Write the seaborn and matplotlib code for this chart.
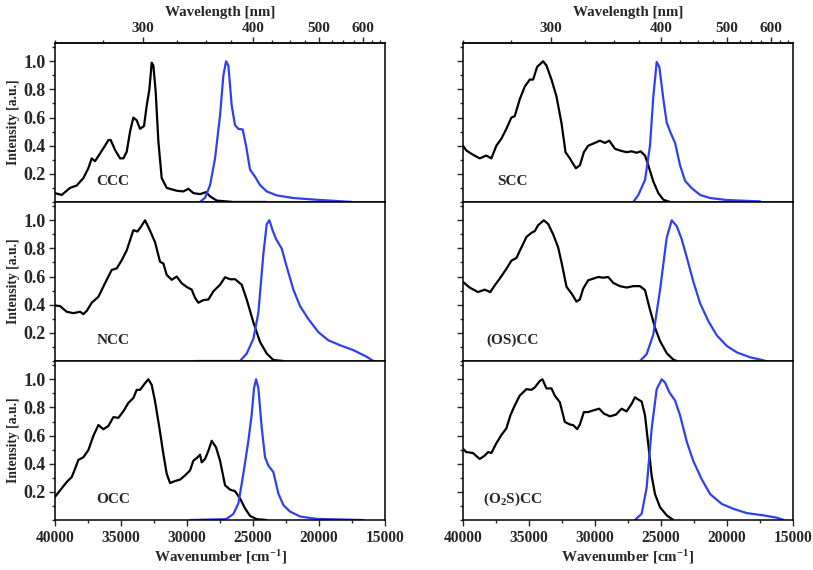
import numpy as np
import pandas as pd
import seaborn as sns
import matplotlib
matplotlib.use("Agg")
import matplotlib.pyplot as plt
from matplotlib.ticker import MultipleLocator, FixedLocator, NullFormatter

ccc_abs_wn = [40000, 39495, 38864, 38359, 37854, 37475, 37222, 36970, 36591, 36212, 35960, 35783,
              35455, 35076, 34823, 34571, 34318, 34066, 33813, 33561, 33258, 33056, 32854, 32677,
              32551, 32374, 32172, 31920, 31541, 30784, 30279, 29900, 29521, 29016, 28561, 28258,
              27753, 26491, 24000]
ccc_abs_int = [0.063, 0.05, 0.10, 0.117, 0.17, 0.24, 0.31, 0.29, 0.345, 0.40, 0.44, 0.44,
               0.37, 0.31, 0.31, 0.357, 0.50, 0.60, 0.58, 0.52, 0.54, 0.685, 0.80, 0.99,
               0.97, 0.78, 0.43, 0.17, 0.10, 0.08, 0.075, 0.094, 0.063, 0.056, 0.07, 0.04,
               0.01, 0.0, 0.0]
ccc_em_wn = [29016, 28638, 28258, 27879, 27501, 27248, 27046, 26870, 26617, 26365, 26112, 25784,
             25532, 25229, 24850, 24471, 23966, 23209, 21946, 20179, 18500, 17500]
ccc_em_int = [0.0, 0.03, 0.12, 0.31, 0.615, 0.90, 1.0, 0.97, 0.685, 0.545, 0.52, 0.515,
              0.40, 0.23, 0.18, 0.12, 0.075, 0.047, 0.028, 0.016, 0.006, 0.0]

ncc_abs_wn = [40000, 39621, 39116, 38611, 38106, 37854, 37601, 37222, 36717, 36212, 35708, 35329,
              34950, 34571, 34066, 33763, 33561, 33182, 32803, 32425, 32046, 31794, 31541, 31163,
              30784, 30405, 30026, 29647, 29395, 29142, 28763, 28384, 28006, 27501, 27122, 26743,
              26365, 25860, 25481, 24976, 24471, 23966, 23461, 22704]
ncc_abs_int = [0.395, 0.39, 0.35, 0.34, 0.35, 0.333, 0.356, 0.414, 0.456, 0.553, 0.647, 0.658,
               0.716, 0.786, 0.93, 0.92, 0.944, 1.0, 0.926, 0.844, 0.705, 0.693, 0.612, 0.577,
               0.60, 0.553, 0.526, 0.507, 0.449, 0.414, 0.433, 0.437, 0.495, 0.542, 0.595, 0.581,
               0.581, 0.542, 0.437, 0.274, 0.135, 0.053, 0.007, 0.0]
ncc_em_wn = [29395, 25986, 25481, 24976, 24597, 24218, 23966, 23764, 23511, 23259, 22829, 22451,
             21946, 21441, 20810, 20052, 19295, 18411, 17401, 16391, 15886]
ncc_em_int = [0.0, 0.0, 0.053, 0.158, 0.344, 0.763, 0.972, 1.0, 0.926, 0.867, 0.798, 0.67,
              0.507, 0.39, 0.298, 0.205, 0.147, 0.112, 0.077, 0.03, 0.0]

occ_abs_wn = [40000, 39621, 39116, 38737, 38485, 38232, 37854, 37475, 37096, 36717, 36339, 35960,
              35581, 35202, 34823, 34445, 34066, 33813, 33561, 33182, 32929, 32677, 32425, 32096,
              31794, 31541, 31289, 30910, 30531, 30153, 29774, 29521, 29268, 29016, 28890, 28638,
              28384, 28132, 27804, 27501, 27122, 26743, 26365, 25986, 25608, 25229, 24724, 23966]
occ_abs_int = [0.165, 0.21, 0.27, 0.305, 0.364, 0.427, 0.446, 0.497, 0.598, 0.675, 0.645, 0.668,
               0.731, 0.726, 0.773, 0.832, 0.867, 0.925, 0.925, 0.972, 1.0, 0.96, 0.843, 0.656,
               0.469, 0.329, 0.263, 0.277, 0.287, 0.317, 0.352, 0.422, 0.44, 0.464, 0.41, 0.434,
               0.492, 0.563, 0.516, 0.422, 0.247, 0.216, 0.205, 0.153, 0.083, 0.029, 0.006, 0.0]
occ_em_wn = [29774, 27046, 26491, 26112, 25734, 25355, 25103, 24926, 24774, 24598, 24345, 24093,
             23840, 23461, 23082, 22704, 22199, 21441, 20179, 16644]
occ_em_int = [0.0, 0.006, 0.043, 0.118, 0.329, 0.563, 0.75, 0.937, 1.0, 0.937, 0.656, 0.446,
              0.387, 0.34, 0.188, 0.106, 0.06, 0.025, 0.008, 0.0]

scc_abs_wn = [40000, 39747, 39241, 38735, 38229, 37849, 37470, 37090, 36711, 36331, 36078, 35699,
              35319, 34940, 34687, 34383, 33928, 33675, 33295, 32916, 32536, 32232, 31903, 31650,
              31448, 31145, 30841, 30512, 30006, 29627, 29247, 28918, 28488, 28109, 27603, 27223,
              26844, 26540, 26211, 25958, 25579, 25199, 24820, 24314]
scc_abs_int = [0.40, 0.366, 0.336, 0.31, 0.33, 0.31, 0.40, 0.45, 0.52, 0.60, 0.61, 0.73,
               0.82, 0.87, 0.87, 0.96, 1.0, 0.97, 0.87, 0.75, 0.56, 0.354, 0.31, 0.27,
               0.24, 0.26, 0.354, 0.40, 0.42, 0.436, 0.42, 0.436, 0.378, 0.366, 0.354, 0.36,
               0.35, 0.36, 0.33, 0.26, 0.145, 0.063, 0.016, 0.0]
scc_em_wn = [27097, 26717, 26211, 25832, 25579, 25326, 25124, 24820, 24567, 24263, 23934, 23555,
             23175, 22669, 22036, 21277, 20012, 17482]
scc_em_int = [0.0, 0.05, 0.156, 0.40, 0.75, 0.995, 0.96, 0.73, 0.564, 0.49, 0.42, 0.26,
              0.15, 0.098, 0.05, 0.028, 0.014, 0.004]

oscc_abs_wn = [40000, 39494, 38862, 38356, 37926, 37597, 37217, 36711, 36331, 35952, 35572, 35193,
               34813, 34560, 34307, 33877, 33548, 33168, 32789, 32536, 32156, 31777, 31397, 31145,
               30892, 30512, 30133, 29753, 29374, 28994, 28615, 28109, 27603, 27097, 26591, 26211,
               25832, 25452, 25073, 24567, 24061, 23808]
oscc_abs_int = [0.562, 0.522, 0.49, 0.507, 0.49, 0.537, 0.585, 0.655, 0.713, 0.732, 0.807, 0.881,
                0.911, 0.923, 0.965, 1.0, 0.974, 0.90, 0.807, 0.702, 0.527, 0.48, 0.422, 0.438,
                0.515, 0.574, 0.585, 0.597, 0.592, 0.597, 0.555, 0.532, 0.522, 0.532, 0.532, 0.504,
                0.364, 0.236, 0.142, 0.056, 0.009, 0.0]
oscc_em_wn = [26591, 26085, 25579, 25073, 24567, 24187, 23808, 23428, 23049, 22543, 22037, 21404,
              20772, 20012, 19253, 18241, 17229, 17103]
oscc_em_int = [0.0, 0.049, 0.189, 0.504, 0.877, 1.0, 0.958, 0.865, 0.737, 0.562, 0.41, 0.282,
               0.182, 0.107, 0.061, 0.026, 0.005, 0.0]

o2scc_abs_wn = [40000, 39747, 39241, 38735, 38356, 38103, 37849, 37470, 37090, 36711, 36407, 36078,
                35699, 35193, 34813, 34560, 34180, 33978, 33675, 33295, 33042, 32663, 32283, 31903,
                31650, 31347, 31144, 30841, 30512, 30133, 29677, 29323, 28867, 28412, 27982, 27603,
                27223, 26970, 26717, 26464, 26211, 25958, 25705, 25452, 25073, 24567, 24061]
o2scc_abs_int = [0.506, 0.483, 0.476, 0.434, 0.457, 0.483, 0.476, 0.546, 0.604, 0.651, 0.744, 0.814,
                 0.884, 0.93, 0.925, 0.942, 0.988, 1.0, 0.935, 0.935, 0.884, 0.837, 0.697, 0.679,
                 0.674, 0.646, 0.679, 0.767, 0.767, 0.779, 0.791, 0.756, 0.737, 0.749, 0.791, 0.772,
                 0.826, 0.872, 0.856, 0.842, 0.744, 0.534, 0.313, 0.184, 0.091, 0.033, 0.0]
o2scc_em_wn = [26970, 26464, 26085, 25705, 25326, 24946, 24693, 24364, 23934, 23555, 23049, 22543,
               21910, 21277, 20392, 19506, 18494, 17229, 16217, 15711]
o2scc_em_int = [0.0, 0.044, 0.231, 0.651, 0.93, 1.0, 0.977, 0.907, 0.849, 0.744, 0.557, 0.417,
                0.289, 0.184, 0.114, 0.079, 0.049, 0.033, 0.016, 0.0]

panel_names = ["CCC", "NCC", "OCC", "SCC", "(OS)CC", "(O$_2$S)CC"]
abs_wn = [ccc_abs_wn, ncc_abs_wn, occ_abs_wn, scc_abs_wn, oscc_abs_wn, o2scc_abs_wn]
abs_int = [ccc_abs_int, ncc_abs_int, occ_abs_int, scc_abs_int, oscc_abs_int, o2scc_abs_int]
em_wn = [ccc_em_wn, ncc_em_wn, occ_em_wn, scc_em_wn, oscc_em_wn, o2scc_em_wn]
em_int = [ccc_em_int, ncc_em_int, occ_em_int, scc_em_int, oscc_em_int, o2scc_em_int]

wl_major = [300, 400, 500, 600]
wl_minor = list(range(250, 676, 25))

BLUE = "#3040ec"

sns.set_style("ticks")
plt.rcParams["font.family"] = ["Liberation Serif", "DejaVu Serif"]
plt.rcParams["font.weight"] = "bold"
plt.rcParams["axes.labelweight"] = "bold"
plt.rcParams["mathtext.fontset"] = "custom"
plt.rcParams["mathtext.rm"] = "Liberation Serif:bold"
plt.rcParams["mathtext.it"] = "Liberation Serif:bold"
plt.rcParams["mathtext.bf"] = "Liberation Serif:bold"
plt.rcParams["mathtext.default"] = "rm"


def nm(x):
    x = np.asarray(x, dtype=float)
    with np.errstate(divide="ignore"):
        return 1e7 / x


fig, axes = plt.subplots(3, 2, figsize=(8.13, 5.70), dpi=100, sharex=True, sharey=True)
fig.subplots_adjust(left=0.0677, right=0.9754, top=0.9246, bottom=0.0877, hspace=0, wspace=0.236)

for i in range(6):
    col, row = divmod(i, 3)
    ax = axes[row, col]
    df_a = pd.DataFrame({"wn": abs_wn[i], "I": abs_int[i]})
    df_e = pd.DataFrame({"wn": em_wn[i], "I": em_int[i]})
    sns.lineplot(data=df_a, x="wn", y="I", ax=ax, color="black", lw=1.6, estimator=None)
    sns.lineplot(data=df_e, x="wn", y="I", ax=ax, color=BLUE, lw=1.6, estimator=None)
    ax.set_xlim(40000, 15000)
    ax.set_ylim(0, 1.13)
    ax.set_yticks([0.2, 0.4, 0.6, 0.8, 1.0])
    ax.yaxis.set_minor_locator(MultipleLocator(0.1))
    ax.xaxis.set_major_locator(MultipleLocator(5000))
    ax.xaxis.set_minor_locator(MultipleLocator(2500))
    ax.set_ylabel("Intensity [a.u.]", fontsize=9.8, labelpad=3)
    ax.set_xlabel("")
    ax.tick_params(axis="y", which="major", labelsize=13, length=4, width=1, direction="out", pad=2.5)
    ax.tick_params(axis="x", which="major", labelsize=11.2, length=4, width=1, direction="out", pad=3)
    ax.tick_params(axis="both", which="minor", length=2.5, width=1, direction="out")
    for s in ax.spines.values():
        s.set_linewidth(1.1)
        s.set_color("black")
    xt = 0.175 if col == 0 else 0.15
    ax.text(xt, 0.13, panel_names[i], transform=ax.transAxes, ha="center", va="center",
            fontsize=11, fontweight="bold")
    if row < 2:
        ax.tick_params(axis="x", which="both", bottom=False, labelbottom=False)
    else:
        ax.set_xlabel("Wavenumber [cm$^{-1}$]", fontsize=10.8, labelpad=2)
    if row == 0:
        sec = ax.secondary_xaxis("top", functions=(nm, nm))
        sec.xaxis.set_major_locator(FixedLocator(wl_major))
        sec.xaxis.set_minor_locator(FixedLocator(wl_minor))
        sec.xaxis.set_minor_formatter(NullFormatter())
        sec.tick_params(which="major", labelsize=11, length=4, width=1, direction="out", pad=2)
        sec.tick_params(which="minor", length=2.5, width=1, direction="out")
        sec.spines["top"].set_linewidth(1.1)
        sec.set_xlabel("Wavelength [nm]", fontsize=10.8, labelpad=4)

fig.savefig("out.png", dpi=100)
